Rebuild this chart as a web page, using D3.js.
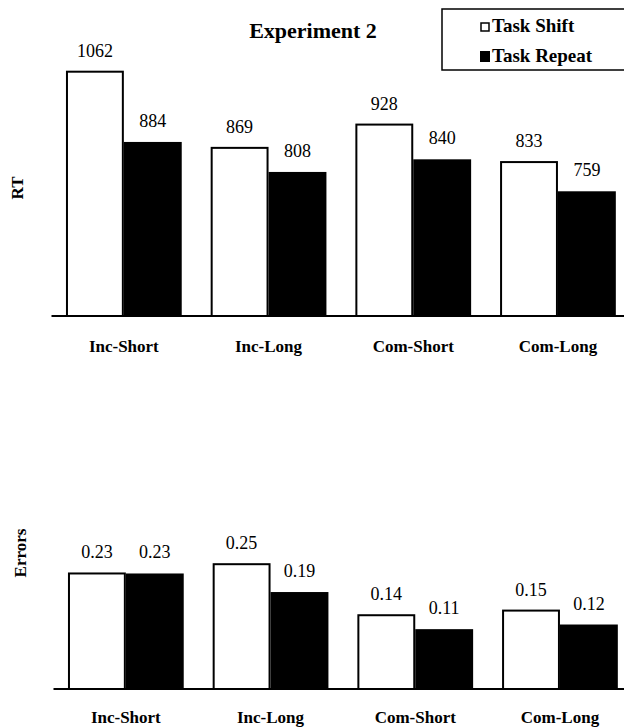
<!DOCTYPE html>
<html>
<head>
<meta charset="utf-8">
<script src="https://cdn.jsdelivr.net/npm/d3@7"></script>
<style>
  html, body { margin: 0; padding: 0; background: white; }
  svg { display: block; }
</style>
</head>
<body>
<div id="chart"></div>
<script>
const categories = ['Inc-Short', 'Inc-Long', 'Com-Short', 'Com-Long'];
const seriesNames = ['Task Shift', 'Task Repeat'];
const rtShift = [1062, 869, 928, 833];
const rtRepeat = [884, 808, 840, 759];
const errShift = [0.23, 0.25, 0.14, 0.15];
const errRepeat = [0.23, 0.19, 0.11, 0.12];

const width = 624;
const height = 728;
const fontFamily = "'Liberation Serif', 'Times New Roman', serif";
const ink = '#000';

const svg = d3.select('#chart')
  .append('svg')
  .attr('width', width)
  .attr('height', height)
  .style('font-family', fontFamily);

function drawPanel({xRange, yScale, baseY, shift, repeat, format, axisLabel, labelX, labelY, labelWeight, catY}) {
  const g = svg.append('g');
  const x0 = d3.scaleBand()
    .domain(categories)
    .range(xRange)
    .paddingInner(0.2)
    .paddingOuter(0.1);
  const x1 = d3.scaleBand()
    .domain(seriesNames)
    .range([0, x0.bandwidth()]);

  const rows = categories.map((c, i) => ({
    cat: c,
    values: [
      {name: seriesNames[0], value: shift[i]},
      {name: seriesNames[1], value: repeat[i]}
    ]
  }));

  const groups = g.selectAll('.group')
    .data(rows)
    .join('g')
    .attr('class', 'group')
    .attr('transform', d => `translate(${x0(d.cat)},0)`);

  groups.selectAll('rect')
    .data(d => d.values)
    .join('rect')
    .attr('x', d => x1(d.name) + (d.name === seriesNames[0] ? 1 : 0))
    .attr('width', d => x1.bandwidth() - (d.name === seriesNames[0] ? 2 : 0))
    .attr('y', d => yScale(d.value))
    .attr('height', d => baseY - yScale(d.value))
    .attr('fill', d => d.name === seriesNames[0] ? 'white' : ink)
    .attr('stroke', d => d.name === seriesNames[0] ? ink : 'none')
    .attr('stroke-width', 2);

  groups.selectAll('text.value')
    .data(d => d.values)
    .join('text')
    .attr('class', 'value')
    .attr('x', d => x1(d.name) + x1.bandwidth() / 2)
    .attr('y', d => yScale(d.value) - 15)
    .attr('text-anchor', 'middle')
    .style('font-size', '18px')
    .text(d => format(d.value));

  // baseline
  g.append('line')
    .attr('x1', xRange[0])
    .attr('x2', width)
    .attr('y1', baseY)
    .attr('y2', baseY)
    .attr('stroke', ink)
    .attr('stroke-width', 2);

  g.selectAll('text.cat')
    .data(categories)
    .join('text')
    .attr('class', 'cat')
    .attr('x', d => x0(d) + x0.bandwidth() / 2)
    .attr('y', catY)
    .attr('text-anchor', 'middle')
    .style('font-size', '17px')
    .style('font-weight', 'bold')
    .text(d => d);

  g.append('text')
    .attr('transform', `translate(${labelX},${labelY}) rotate(-90)`)
    .attr('text-anchor', 'middle')
    .style('font-size', '17px')
    .style('font-weight', labelWeight)
    .text(axisLabel);
}

const yRT = d3.scaleLinear().domain([443, 1100]).range([316, 56.7]);
const yErr = d3.scaleLinear().domain([-0.019, 0.3]).range([689, 541]);

drawPanel({
  xRange: [51.5, 630.3], yScale: yRT, baseY: 316,
  shift: rtShift, repeat: rtRepeat, format: d3.format('d'),
  axisLabel: 'RT', labelX: 23, labelY: 188, labelWeight: 'bold', catY: 352
});

drawPanel({
  xRange: [53.5, 632.3], yScale: yErr, baseY: 689,
  shift: errShift, repeat: errRepeat, format: d3.format('.2f'),
  axisLabel: 'Errors', labelX: 26, labelY: 553, labelWeight: 'bold', catY: 723
});

// title
svg.append('text')
  .attr('x', 313)
  .attr('y', 38)
  .attr('text-anchor', 'middle')
  .style('font-size', '22px')
  .style('font-weight', 'bold')
  .text('Experiment 2');

// legend
const legend = svg.append('g');
legend.append('rect')
  .attr('x', 442)
  .attr('y', 9)
  .attr('width', 200)
  .attr('height', 61)
  .attr('fill', 'white')
  .attr('stroke', ink)
  .attr('stroke-width', 1.5);

const legendItems = legend.selectAll('.item')
  .data(seriesNames)
  .join('g')
  .attr('class', 'item')
  .attr('transform', (d, i) => `translate(480,${32 + i * 30})`);

legendItems.append('rect')
  .attr('x', (d, i) => i === 0 ? 1 : 0)
  .attr('y', (d, i) => i === 0 ? -9 : -11)
  .attr('width', (d, i) => i === 0 ? 8 : 10)
  .attr('height', (d, i) => i === 0 ? 8 : 11)
  .attr('fill', (d, i) => i === 0 ? 'white' : ink)
  .attr('stroke', (d, i) => i === 0 ? ink : 'none')
  .attr('stroke-width', 1.5);

legendItems.append('text')
  .attr('x', 12)
  .attr('y', 0)
  .style('font-size', '19px')
  .style('font-weight', 'bold')
  .text(d => d);
</script>
</body>
</html>
